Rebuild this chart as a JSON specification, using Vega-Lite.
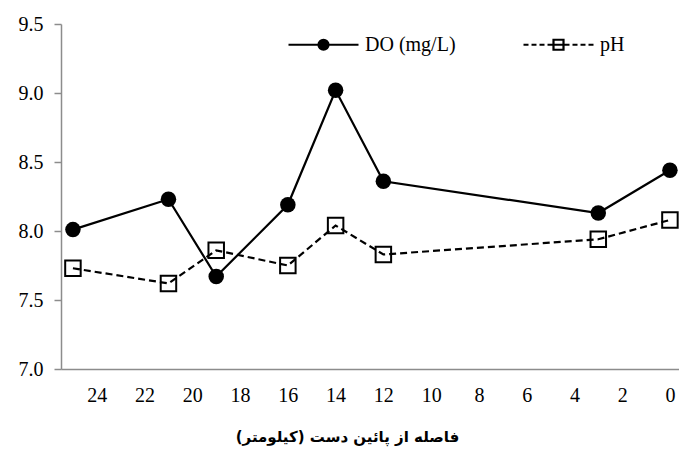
{
  "$schema": "https://vega.github.io/schema/vega-lite/v6.json",
  "width": 618,
  "height": 345,
  "autosize": "none",
  "padding": {"left": 61, "top": 24, "right": 0, "bottom": 90},
  "background": "white",
  "config": {
    "view": {"stroke": null},
    "font": "Liberation Serif"
  },
  "data": {
    "values": [
      {"km": 25, "series": "DO (mg/L)", "value": 8.01},
      {"km": 21, "series": "DO (mg/L)", "value": 8.23},
      {"km": 19, "series": "DO (mg/L)", "value": 7.67},
      {"km": 16, "series": "DO (mg/L)", "value": 8.19},
      {"km": 14, "series": "DO (mg/L)", "value": 9.02},
      {"km": 12, "series": "DO (mg/L)", "value": 8.36},
      {"km": 3, "series": "DO (mg/L)", "value": 8.13},
      {"km": 0, "series": "DO (mg/L)", "value": 8.44},
      {"km": 25, "series": "pH", "value": 7.73},
      {"km": 21, "series": "pH", "value": 7.62},
      {"km": 19, "series": "pH", "value": 7.86},
      {"km": 16, "series": "pH", "value": 7.75},
      {"km": 14, "series": "pH", "value": 8.04},
      {"km": 12, "series": "pH", "value": 7.83},
      {"km": 3, "series": "pH", "value": 7.94},
      {"km": 0, "series": "pH", "value": 8.08}
    ]
  },
  "encoding": {
    "x": {
      "field": "km",
      "type": "quantitative",
      "scale": {"domain": [-0.38, 25.5], "reverse": true, "nice": false, "zero": false},
      "axis": {
        "values": [0, 2, 4, 6, 8, 10, 12, 14, 16, 18, 20, 22, 24],
        "grid": false,
        "ticks": false,
        "tickSize": 0,
        "domainColor": "#8c8c8c",
        "domainWidth": 1.5,
        "labelFont": "Liberation Serif",
        "labelFontSize": 20,
        "labelColor": "#000000",
        "labelPadding": 16,
        "title": "فاصله از پائین دست (کیلومتر)",
        "titleFont": "DejaVu Sans",
        "titleFontSize": 15,
        "titleFontWeight": "bold",
        "titleColor": "#000000",
        "titlePadding": 24,
        "titleAnchor": "middle",
        "titleX": 286
      }
    },
    "y": {
      "field": "value",
      "type": "quantitative",
      "scale": {"domain": [7, 9.5], "nice": false, "zero": false},
      "axis": {
        "values": [7, 7.5, 8, 8.5, 9, 9.5],
        "format": ".1f",
        "grid": false,
        "tickSize": 7,
        "tickColor": "#8c8c8c",
        "tickWidth": 1.5,
        "domainColor": "#8c8c8c",
        "domainWidth": 1.5,
        "labelFont": "Liberation Serif",
        "labelFontSize": 20,
        "labelColor": "#000000",
        "labelPadding": 11,
        "title": null
      }
    }
  },
  "layer": [
    {
      "transform": [{"filter": "datum.series === 'DO (mg/L)'"}],
      "mark": {"type": "line", "strokeWidth": 2.2},
      "encoding": {
        "color": {
          "field": "series",
          "type": "nominal",
          "scale": {"domain": ["DO (mg/L)", "pH"], "range": ["#000000", "#000000"]},
          "legend": {
            "orient": "none",
            "legendX": 226,
            "legendY": -16,
            "direction": "horizontal",
            "title": null,
            "symbolSize": 4900,
            "symbolStrokeWidth": 2.2,
            "labelFont": "Liberation Serif",
            "labelFontSize": 20,
            "labelColor": "#000000",
            "labelOffset": 5,
            "columnPadding": 63,
            "padding": 0,
            "encode": {
              "symbols": {
                "update": {
                  "shape": {"signal": "datum.value === 'pH' ? 'M-1,0L-0.857,0M-0.771,0L-0.629,0M-0.543,0L-0.4,0M-0.314,0L-0.143,0M0.143,0L0.314,0M0.4,0L0.543,0M0.629,0L0.771,0M0.857,0L1,0M-0.143,0L0.143,0M-0.143,-0.143L0.143,-0.143L0.143,0.143L-0.143,0.143Z' : 'M-1,0L1,0M-0.143,0A0.143,0.143,0,1,1,0.143,0A0.143,0.143,0,1,1,-0.143,0Z'"},
                  "fill": {"signal": "datum.value === 'pH' ? 'transparent' : '#000000'"},
                  "stroke": {"value": "#000000"},
                  "strokeWidth": {"value": 2.2},
                  "size": {"value": 4900}
                }
              }
            }
          }
        }
      }
    },
    {
      "transform": [{"filter": "datum.series === 'pH'"}],
      "mark": {"type": "line", "strokeWidth": 2.2, "strokeDash": [7, 4]},
      "encoding": {
        "color": {
          "field": "series",
          "type": "nominal",
          "scale": {"domain": ["DO (mg/L)", "pH"], "range": ["#000000", "#000000"]}
        }
      }
    },
    {
      "transform": [{"filter": "datum.series === 'DO (mg/L)'"}],
      "mark": {"type": "point", "shape": "circle", "filled": true, "color": "#000000", "strokeWidth": 1, "size": 240, "opacity": 1}
    },
    {
      "transform": [{"filter": "datum.series === 'pH'"}],
      "mark": {"type": "point", "shape": "square", "filled": false, "color": "#000000", "strokeWidth": 2, "size": 240, "opacity": 1}
    }
  ]
}
